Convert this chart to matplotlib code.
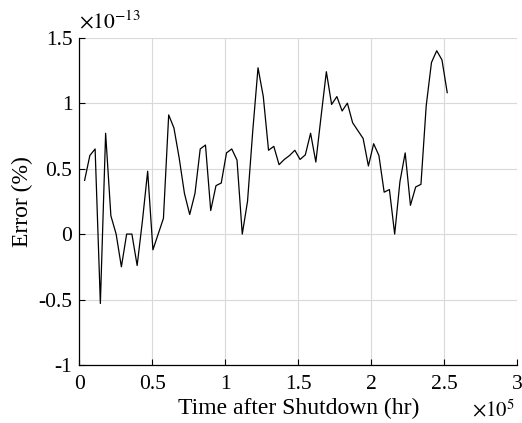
import matplotlib
matplotlib.use("Agg")
import matplotlib.pyplot as plt
from matplotlib.ticker import FuncFormatter

# ---------------------------------------------------------------------------
# Data (time in hours, error in units of 1e-13 %)
# ---------------------------------------------------------------------------
TIME_HR = [3600, 7200, 10800, 14400, 18000, 21600, 25200, 28800, 32400, 36000,
           39600, 43200, 46800, 50400, 54000, 57600, 61200, 64800, 68400, 72000,
           75600, 79200, 82800, 86400, 90000, 93600, 97200, 100800, 104400, 108000,
           111600, 115200, 118800, 122400, 126000, 129600, 133200, 136800, 140400, 144000,
           147600, 151200, 154800, 158400, 162000, 165600, 169200, 172800, 176400, 180000,
           183600, 187200, 190800, 194400, 198000, 201600, 205200, 208800, 212400, 216000,
           219600, 223200, 226800, 230400, 234000, 237600, 241200, 244800, 248400, 252000]

ERROR = [0.41, 0.60, 0.65, -0.53, 0.77, 0.14, 0.00, -0.25, 0.00, 0.00,
         -0.24, 0.10, 0.48, -0.12, 0.00, 0.12, 0.91, 0.81, 0.58, 0.31,
         0.15, 0.31, 0.65, 0.68, 0.18, 0.37, 0.39, 0.62, 0.65, 0.565,
         0.00, 0.25, 0.79, 1.27, 1.05, 0.64, 0.67, 0.53, 0.57, 0.60,
         0.64, 0.57, 0.605, 0.77, 0.55, 0.90, 1.24, 0.99, 1.05, 0.94,
         1.00, 0.85, 0.79, 0.73, 0.52, 0.69, 0.60, 0.32, 0.34, 0.00,
         0.40, 0.62, 0.22, 0.36, 0.38, 0.98, 1.31, 1.40, 1.33, 1.08]

X_SCALE = 1e5
Y_EXP = -13
X_TICKS = [0, 0.5, 1, 1.5, 2, 2.5, 3]
Y_TICKS = [-1, -0.5, 0, 0.5, 1, 1.5]

plt.rcParams["font.family"] = ["Liberation Serif", "DejaVu Serif"]
plt.rcParams["mathtext.fontset"] = "stix"
plt.rcParams["axes.unicode_minus"] = False

fig = plt.figure(figsize=(5.22, 4.23), dpi=100)
ax = fig.add_axes([0.152, 0.137, 0.839, 0.774])

ax.plot([t / X_SCALE for t in TIME_HR], ERROR, color="black", linewidth=0.9)

ax.set_xlim(0, 3)
ax.set_ylim(-1, 1.5)
ax.set_xticks(X_TICKS)
ax.set_yticks(Y_TICKS)
fmt = FuncFormatter(lambda v, p: "%g" % v)
ax.xaxis.set_major_formatter(fmt)
ax.yaxis.set_major_formatter(fmt)
ax.tick_params(direction="in", length=4, width=0.8, labelsize=15.5)
ax.tick_params(axis="x", pad=7)
ax.tick_params(axis="y", pad=5)

ax.grid(True, color="#d9d9d9", linewidth=0.8)
ax.set_axisbelow(True)
ax.spines["top"].set_visible(False)
ax.spines["right"].set_visible(False)
ax.spines["left"].set_linewidth(0.9)
ax.spines["bottom"].set_linewidth(0.9)

ax.set_xlabel("Time after Shutdown (hr)", fontsize=17, labelpad=3)
ax.set_ylabel("Error (%)", fontsize=17, labelpad=4)

ax.text(0.0, 1.012, r"$\times10^{%d}$" % Y_EXP, transform=ax.transAxes,
        fontsize=15.5, ha="left", va="bottom")
ax.text(0.994, -0.158, r"$\times10^{5}$", transform=ax.transAxes,
        fontsize=15, ha="right", va="baseline")

fig.savefig("out.png", dpi=100)
